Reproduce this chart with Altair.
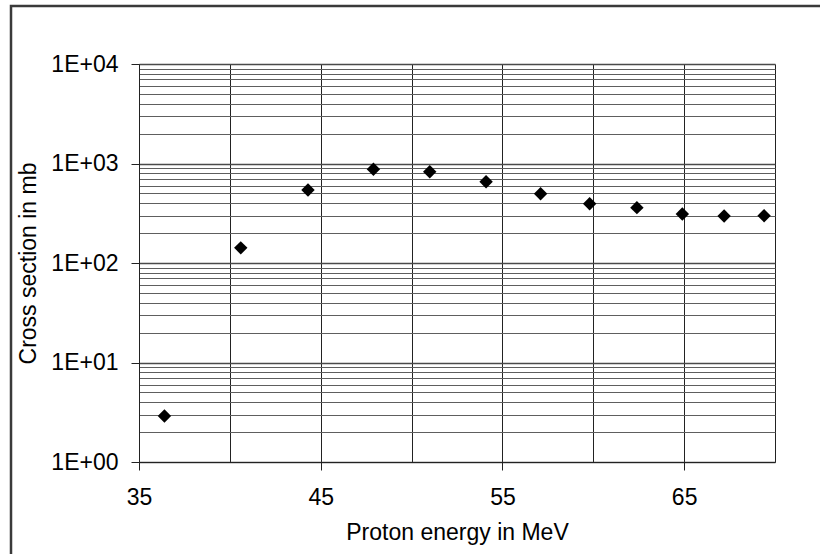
import altair as alt
import pandas as pd

# Data
energy = [36.4, 40.6, 44.3, 47.9, 51.0, 54.1, 57.1, 59.8, 62.4, 64.9, 67.2, 69.4]
xsec = [2.9, 142, 541, 875, 827, 656, 497, 394, 360, 311, 297, 299]

x_grid = [35, 40, 45, 50, 55, 60, 65, 70]
x_labels = [35, 45, 55, 65]
y_grid = [m * 10 ** k for k in range(4) for m in range(1, 10)] + [10000]

df = pd.DataFrame({"energy": energy, "xsec": xsec})

FONT = "Liberation Sans"
FS = 23

decade = "abs(log(datum.value)/LN10 - round(log(datum.value)/LN10)) < 0.001"
xlab = "indexof([" + ",".join(str(v) for v in x_labels) + "], datum.value) >= 0"

x_axis = alt.Axis(
    values=x_grid,
    labelExpr=f"{xlab} ? datum.label : ''",
    grid=True,
    gridColor="#222222",
    gridWidth=1,
    tickSize=8,
    tickColor="#222222",
    tickOpacity={"condition": {"test": xlab, "value": 1}, "value": 0},
    domainColor="#222222",
    labelFont=FONT,
    labelFontSize=FS,
    labelColor="black",
    labelPadding=16,
    labelFlush=False,
    labelOverlap=False,
    title="Proton energy in MeV",
    titleFont=FONT,
    titleFontSize=FS,
    titleFontWeight="normal",
    titleColor="black",
    titlePadding=12,
)

y_axis = alt.Axis(
    values=y_grid,
    labelExpr=f"{decade} ? '1E+0' + round(log(datum.value)/LN10) : ''",
    grid=True,
    gridColor={"condition": {"test": decade, "value": "#4a4a4a"}, "value": "#5e5e5e"},
    gridWidth={"condition": {"test": decade, "value": 1.7}, "value": 1},
    tickSize=8,
    tickColor="#222222",
    tickOpacity={"condition": {"test": decade, "value": 1}, "value": 0},
    domainColor="#222222",
    labelFont=FONT,
    labelFontSize=FS,
    labelColor="black",
    labelPadding=13,
    labelFlush=False,
    labelOverlap=False,
    title="Cross section in mb",
    titleFont=FONT,
    titleFontSize=FS,
    titleFontWeight="normal",
    titleColor="black",
    titlePadding=10,
)

points = alt.Chart(df).mark_point(
    shape="diamond", filled=True, color="black", size=180, opacity=1
).encode(
    x=alt.X("energy:Q", scale=alt.Scale(domain=[35, 70], nice=False, zero=False), axis=x_axis),
    y=alt.Y("xsec:Q", scale=alt.Scale(type="log", domain=[1, 10000], nice=False), axis=y_axis),
)

border = alt.Chart(alt.Data(values=[{}])).mark_rect(
    fill=None, stroke="#3a3a3a", strokeWidth=2.5
).encode(
    x=alt.value(-128), x2=alt.value(720),
    y=alt.value(-58), y2=alt.value(520),
)

chart = alt.layer(border, points).properties(
    width=636,
    height=398,
    autosize=alt.AutoSizeParams(type="none"),
    padding={"left": 139, "top": 64, "right": 45, "bottom": 92},
).configure_view(stroke=None).configure(background="white")

chart.save("out.html", embed_options={"renderer": "svg", "actions": False})
